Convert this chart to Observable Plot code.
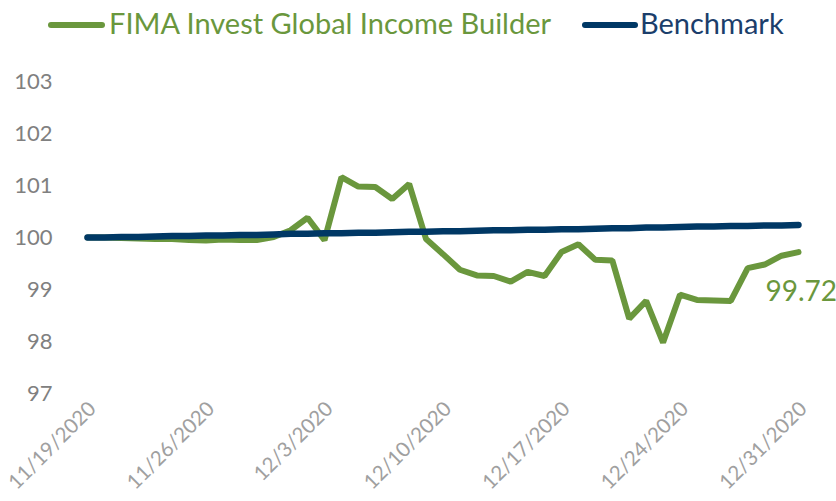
<!DOCTYPE html>
<html>
<head>
<meta charset="utf-8">
<script src="https://cdn.jsdelivr.net/npm/d3@7"></script>
<script src="https://cdn.jsdelivr.net/npm/@observablehq/plot@0.6"></script>
<style>
  html, body { margin: 0; padding: 0; background: #fff; }
  #wrap { width: 836px; height: 501px; position: relative; overflow: hidden; font-family: Lato, "Open Sans", sans-serif; }
  #legend { position: relative; height: 48px; }
  .sw { position: absolute; top: 22px; height: 6px; border-radius: 3px; }
  .lt { position: absolute; top: 5px; font-size: 29px; line-height: 36px; white-space: nowrap; }
</style>
</head>
<body>
<div id="wrap">
  <div id="legend">
    <div class="sw" style="left:48px;width:57px;background:#6a973d"></div>
    <div class="lt" style="left:109px;color:#6a973d">FIMA Invest Global Income Builder</div>
    <div class="sw" style="left:582px;width:56px;background:#003865"></div>
    <div class="lt" style="left:640px;color:#1b3e6b">Benchmark</div>
  </div>
  <div id="chart"></div>
</div>
<script>
const dates = [
  "2020-11-19","2020-11-20","2020-11-21","2020-11-22","2020-11-23","2020-11-24","2020-11-25",
  "2020-11-26","2020-11-27","2020-11-28","2020-11-29","2020-11-30","2020-12-01","2020-12-02",
  "2020-12-03","2020-12-04","2020-12-05","2020-12-06","2020-12-07","2020-12-08","2020-12-09",
  "2020-12-10","2020-12-11","2020-12-12","2020-12-13","2020-12-14","2020-12-15","2020-12-16",
  "2020-12-17","2020-12-18","2020-12-19","2020-12-20","2020-12-21","2020-12-22","2020-12-23",
  "2020-12-24","2020-12-25","2020-12-26","2020-12-27","2020-12-28","2020-12-29","2020-12-30",
  "2020-12-31"
];
const fund = [
  100.00, 100.00, 99.99, 99.98, 99.97, 99.97, 99.95,
  99.94, 99.96, 99.95, 99.95, 100.01, 100.14, 100.38,
  99.95, 101.16, 100.98, 100.97, 100.74, 101.03, 99.97,
  99.68, 99.38, 99.27, 99.26, 99.15, 99.34, 99.26,
  99.72, 99.87, 99.57, 99.56, 98.44, 98.78, 97.98,
  98.90, 98.80, 98.79, 98.78, 99.41, 99.48, 99.65,
  99.72
];
const bench = [
  100.00, 100.00, 100.01, 100.01, 100.02, 100.03, 100.03,
  100.04, 100.04, 100.05, 100.05, 100.06, 100.07, 100.07,
  100.08, 100.08, 100.09, 100.09, 100.10, 100.11, 100.11,
  100.12, 100.12, 100.13, 100.14, 100.14, 100.15, 100.15,
  100.16, 100.16, 100.17, 100.18, 100.18, 100.19, 100.19,
  100.20, 100.21, 100.21, 100.22, 100.22, 100.23, 100.23,
  100.24
];
const tickDates = ["2020-11-19","2020-11-26","2020-12-03","2020-12-10","2020-12-17","2020-12-24","2020-12-31"];
const tickLabels = ["11/19/2020","11/26/2020","12/3/2020","12/10/2020","12/17/2020","12/24/2020","12/31/2020"];
const yTicks = [97, 98, 99, 100, 101, 102, 103];
const endLabel = "99.72";

const parse = d3.utcParse("%Y-%m-%d");
const fundData = dates.map((d, i) => ({date: parse(d), value: fund[i]}));
const benchData = dates.map((d, i) => ({date: parse(d), value: bench[i]}));
const tickD = tickDates.map(parse);
const labelOf = new Map(tickD.map((d, i) => [+d, tickLabels[i]]));
const last = fundData[fundData.length - 1];

const chart = Plot.plot({
  width: 836,
  height: 453,
  marginLeft: 87,
  marginRight: 38,
  marginTop: 33,
  marginBottom: 108,
  style: {fontFamily: "Lato, 'Open Sans', sans-serif", color: "#7f7f7f", background: "#fff", overflow: "visible"},
  x: {type: "utc", domain: [parse(dates[0]), parse(dates[dates.length - 1])]},
  y: {domain: [97, 103]},
  marks: [
    Plot.axisY({ticks: yTicks, tickFormat: d => String(d), tickSize: 0, tickPadding: 35, fontSize: 22, label: null, fill: "#808080"}),
    Plot.axisX({ticks: tickD, tickSize: 0, tickPadding: 12, tickRotate: -45, fontSize: 20.5, label: null, fill: "#a0a0a0", dx: 5,
      tickFormat: d => labelOf.get(+d)}),
    Plot.lineY(fundData, {x: "date", y: "value", stroke: "#6a973d", strokeWidth: 6, strokeLinejoin: "miter", strokeLinecap: "round"}),
    Plot.lineY(benchData, {x: "date", y: "value", stroke: "#003865", strokeWidth: 6.5, strokeLinecap: "round"}),
    Plot.text([last], {x: "date", y: "value", text: () => endLabel, textAnchor: "start", dx: -33, dy: 40, fontSize: 28, fill: "#6a973d"})
  ]
});
document.getElementById("chart").appendChild(chart);
</script>
</body>
</html>
